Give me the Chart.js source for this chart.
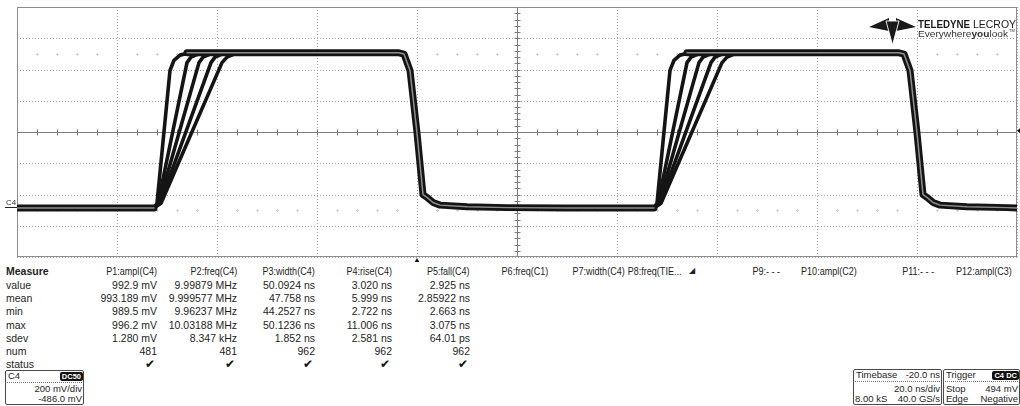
<!DOCTYPE html>
<html>
<head>
<meta charset="utf-8">
<script src="https://cdn.jsdelivr.net/npm/chart.js@4.4.1/dist/chart.umd.min.js"></script>
<style>
  body { margin:0; background:#fff; width:1020px; height:406px; overflow:hidden; position:relative;
         font-family:"Liberation Sans", Arial, sans-serif; color:#1e1e1e; }
  #pantalla { position:absolute; left:0; top:0; width:1020px; height:262px; }
  .txt { position:absolute; font-size:10.5px; line-height:12px; white-space:nowrap; }
  .der { text-align:right; }
  .enc { transform:scaleX(0.86); transform-origin:right center; }
  .caja { position:absolute; border:1px solid #4a4a4a; border-radius:2px; background:#fff; }
  .caja .txt { font-size:9.5px; line-height:10px; }
  .sep { position:absolute; left:1px; right:1px; top:11px; border-top:1px dotted #777; }
  .chapa { position:absolute; background:#111; color:#fff; font-size:7.5px; font-weight:bold;
           line-height:9px; padding:0 2px; border-radius:2px; }
</style>
</head>
<body>
<div id="pantalla"><canvas id="osciloscopio"></canvas></div>

<svg width="1020" height="60" style="position:absolute;left:0;top:0" viewBox="0 0 1020 60">
  <polygon points="869,27 889,18 889,31" fill="#1a1a1a"/>
  <polygon points="916,27 896,18 896,31" fill="#1a1a1a"/>
  <polygon points="886,21 899,21 892.5,45" fill="#1a1a1a" stroke="#fff" stroke-width="0.9"/>
  <text x="918" y="27.5" font-family="Liberation Sans, Arial" font-size="10.5" font-weight="bold"
        textLength="52" lengthAdjust="spacingAndGlyphs" fill="#1a1a1a">TELEDYNE</text>
  <text x="973" y="27.5" font-family="Liberation Sans, Arial" font-size="10.5"
        textLength="43" lengthAdjust="spacingAndGlyphs" fill="#1a1a1a">LECROY</text>
  <text x="918" y="37" font-family="Liberation Sans, Arial" font-size="9.5"
        textLength="90" lengthAdjust="spacingAndGlyphs" fill="#333">Everywhere<tspan font-weight="bold">you</tspan>look</text>
  <text x="1009" y="32" font-family="Liberation Sans, Arial" font-size="4" fill="#333">TM</text>
</svg>

<div id="medidas"></div>

<div class="caja" style="left:5px;top:370px;width:77px;height:33px">
  <div class="txt" style="left:2px;top:0px">C4</div>
  <div class="chapa" style="right:0px;top:1px">DC50</div>
  <div class="sep"></div>
  <div class="txt der" style="right:1px;top:13px">200 mV/div</div>
  <div class="txt der" style="right:1px;top:23px">-486.0 mV</div>
</div>

<div class="caja" style="left:853px;top:369px;width:87px;height:34px">
  <div class="txt" style="left:2px;top:0px">Timebase</div>
  <div class="txt der" style="right:1px;top:0px">-20.0 ns</div>
  <div class="sep"></div>
  <div class="txt der" style="right:1px;top:14px">20.0 ns/div</div>
  <div class="txt" style="left:1px;top:24px">8.00 kS</div>
  <div class="txt der" style="right:1px;top:24px">40.0 GS/s</div>
</div>

<div class="caja" style="left:943px;top:369px;width:75px;height:34px">
  <div class="txt" style="left:2px;top:0px">Trigger</div>
  <div class="chapa" style="right:13px;top:1px">C4</div>
  <div class="chapa" style="right:0px;top:1px">DC</div>
  <div class="sep"></div>
  <div class="txt" style="left:2px;top:14px">Stop</div>
  <div class="txt der" style="right:1px;top:14px">494 mV</div>
  <div class="txt" style="left:2px;top:24px">Edge</div>
  <div class="txt der" style="right:1px;top:24px">Negative</div>
</div>

<script>
/* ESCALAS: 20 ns/div, 200 mV/div, offset -486 mV */
const escalaX = [-80, -60, -40, -20, 0, 20, 40, 60, 80, 100, 120];   // ns
const escalaY = [-314, -114, 86, 286, 486, 686, 886, 1086, 1286];    // mV
const centroX = 20;
const centroY = 486;
const tiempoDisparo = 0;
const nivelDisparo = 494;

/* TRAZAS (ns, mV) */
const bajoInicio = [[-80, 0], [-52.6, 0]];

const subidas1 = [
  [[-52.0, 30], [-49.4, 880], [-48.6, 945], [-47.4, 978], [-45.4, 993]],
  [[-51.8, 30], [-46.0, 930], [-45.2, 965], [-43.8, 985], [-41.4, 993]],
  [[-51.6, 30], [-43.6, 930], [-42.8, 965], [-41.4, 985], [-39.0, 993]],
  [[-51.4, 30], [-41.2, 930], [-40.4, 965], [-39.0, 985], [-36.6, 993]],
  [[-51.2, 30], [-39.0, 930], [-38.0, 965], [-36.6, 985], [-33.8, 993]]
];

const bajada1 = [[-3.6, 993], [-2.6, 985], [-1.4, 880], [0, 480], [1.2, 85], [2.0, 68],
                 [3.2, 35], [4.6, 18], [10, 8], [18, 2], [30, 0], [47.4, 0]];

const subidas2 = [
  [[48.0, 30], [50.6, 880], [51.4, 945], [52.6, 978], [54.6, 993]],
  [[48.2, 30], [54.0, 930], [54.8, 965], [56.2, 985], [58.6, 993]],
  [[48.4, 30], [56.4, 930], [57.2, 965], [58.6, 985], [61.0, 993]],
  [[48.6, 30], [58.8, 930], [59.6, 965], [61.0, 985], [63.4, 993]],
  [[48.8, 30], [61.0, 930], [62.0, 965], [63.4, 985], [66.2, 993]]
];

const bajada2 = [[96.4, 993], [97.4, 985], [98.6, 880], [100, 480], [101.2, 85], [102.0, 68],
                 [103.2, 35], [104.6, 18], [110, 8], [118, 2], [120, 0]];

/* zona donde todas las trazas se solapan (persistencia) */
const banda = [[-80, 0], [-52.6, 0], [-50, null], [-46, 993], ...bajada1,
               [50, null], [54, 993], ...bajada2];

/* MEDIDAS */
const encabezados = ["P1:ampl(C4)", "P2:freq(C4)", "P3:width(C4)", "P4:rise(C4)", "P5:fall(C4)",
                     "P6:freq(C1)", "P7:width(C4)", "P8:freq(TIE...", "P9:- - -", "P10:ampl(C2)",
                     "P11:- - -", "P12:ampl(C3)"];
const filas = ["value", "mean", "min", "max", "sdev", "num", "status"];
const valorP = ["992.9 mV", "9.99879 MHz", "50.0924 ns", "3.020 ns", "2.925 ns"];
const mediaP = ["993.189 mV", "9.999577 MHz", "47.758 ns", "5.999 ns", "2.85922 ns"];
const minP = ["989.5 mV", "9.96237 MHz", "44.2527 ns", "2.722 ns", "2.663 ns"];
const maxP = ["996.2 mV", "10.03188 MHz", "50.1236 ns", "11.006 ns", "3.075 ns"];
const sdevP = ["1.280 mV", "8.347 kHz", "1.852 ns", "2.581 ns", "64.01 ps"];
const numP = ["481", "481", "962", "962", "962"];
const estadoP = ["\u2714", "\u2714", "\u2714", "\u2714", "\u2714"];

function aPuntos(lista) {
  return lista.map(p => ({ x: p[0], y: p[1] }));
}

/* tabla de medidas */
function cargarMedidas() {
  let base = document.querySelector('#medidas');
  const bordeCol = [157, 237, 315, 392, 470, 548, 625, 681, 780, 857, 934, 1012];
  const filaY = [271, 284.5, 298, 311, 324.5, 338, 351, 363.5];
  const columnas = [valorP, mediaP, minP, maxP, sdevP, numP, estadoP];

  let tit = document.createElement('div');
  tit.className = "txt";
  tit.style.cssText = "left:6px;top:" + (filaY[0] - 6) + "px;font-weight:bold";
  tit.textContent = "Measure";
  base.appendChild(tit);

  encabezados.forEach((enc, i) => {
    let d = document.createElement('div');
    d.className = "txt der enc";
    d.style.right = (1020 - bordeCol[i]) + "px";
    d.style.top = (filaY[0] - 6) + "px";
    d.textContent = enc;
    base.appendChild(d);
  });

  let flecha = document.createElement('div');
  flecha.className = "txt";
  flecha.style.cssText = "left:689px;top:" + (filaY[0] - 6) + "px;font-size:8px";
  flecha.textContent = "\u25E2";
  base.appendChild(flecha);

  filas.forEach((f, r) => {
    let et = document.createElement('div');
    et.className = "txt";
    et.style.cssText = "left:6px;top:" + (filaY[r + 1] - 6) + "px";
    et.textContent = f;
    base.appendChild(et);
    columnas[r].forEach((v, i) => {
      let d = document.createElement('div');
      d.className = "txt der";
      d.style.right = (1020 - bordeCol[i] + (r === 6 ? 2 : 0)) + "px";
      d.style.top = (filaY[r + 1] - 6) + "px";
      if (r === 6) { d.style.fontSize = "12px"; d.style.color = "#111"; }
      d.textContent = v;
      base.appendChild(d);
    });
  });
}
cargarMedidas();

/* rejilla del osciloscopio */
const rejilla = {
  id: 'rejilla',
  beforeDatasetsDraw(chart) {
    const { ctx, chartArea: a, scales: { x, y } } = chart;
    ctx.save();
    ctx.lineWidth = 1;

    ctx.strokeStyle = '#a0a0a0';
    ctx.setLineDash([1, 2]);
    escalaX.forEach(v => {
      if (v === centroX) return;
      const px = Math.round(x.getPixelForValue(v)) + 0.5;
      ctx.beginPath(); ctx.moveTo(px, a.top); ctx.lineTo(px, a.bottom); ctx.stroke();
    });
    escalaY.forEach(v => {
      if (v === centroY) return;
      const py = Math.round(y.getPixelForValue(v)) + 0.5;
      ctx.beginPath(); ctx.moveTo(a.left, py); ctx.lineTo(a.right, py); ctx.stroke();
    });
    ctx.setLineDash([]);

    // ejes centrales con subdivisiones
    ctx.strokeStyle = '#7c7c7c';
    const cx = Math.round(x.getPixelForValue(centroX)) + 0.5;
    const cy = Math.round(y.getPixelForValue(centroY)) + 0.5;
    ctx.beginPath(); ctx.moveTo(cx, a.top); ctx.lineTo(cx, a.bottom); ctx.stroke();
    ctx.beginPath(); ctx.moveTo(a.left, cy); ctx.lineTo(a.right, cy); ctx.stroke();
    const subX = (escalaX[1] - escalaX[0]) / 5;
    const subY = (escalaY[1] - escalaY[0]) / 5;
    for (let t = escalaX[0] + subX; t < escalaX[escalaX.length - 1]; t += subX) {
      const px = Math.round(x.getPixelForValue(t)) + 0.5;
      ctx.beginPath(); ctx.moveTo(px, cy - 3); ctx.lineTo(px, cy + 3); ctx.stroke();
    }
    for (let v = escalaY[0] + subY; v < escalaY[escalaY.length - 1]; v += subY) {
      const py = Math.round(y.getPixelForValue(v)) + 0.5;
      ctx.beginPath(); ctx.moveTo(cx - 3, py); ctx.lineTo(cx + 3, py); ctx.stroke();
    }

    // marcas tenues a +/- 2.5 div
    ctx.strokeStyle = '#d2d2d2';
    [centroY + 2.5 * 200, centroY - 2.5 * 200].forEach(v => {
      const py = Math.round(y.getPixelForValue(v)) + 0.5;
      for (let t = escalaX[0] + subX; t < escalaX[escalaX.length - 1]; t += subX) {
        const fr = ((t - escalaX[0]) / 20) % 1;
        if (fr < 0.01 || fr > 0.99) continue;
        const px = Math.round(x.getPixelForValue(t)) + 0.5;
        ctx.beginPath();
        ctx.moveTo(px - 1.5, py); ctx.lineTo(px + 1.5, py);
        ctx.moveTo(px, py - 1.5); ctx.lineTo(px, py + 1.5);
        ctx.stroke();
      }
    });

    ctx.strokeStyle = '#8c8c8c';
    ctx.strokeRect(a.left + 0.5, a.top + 0.5, a.width - 1, a.height - 1);
    ctx.restore();
  },
  afterDraw(chart) {
    const { ctx, chartArea: a, scales: { x, y } } = chart;
    ctx.save();
    ctx.fillStyle = '#111';
    // disparo en tiempo
    const tx = x.getPixelForValue(tiempoDisparo);
    ctx.beginPath(); ctx.moveTo(tx, a.bottom + 1); ctx.lineTo(tx - 3.5, a.bottom + 7); ctx.lineTo(tx + 3.5, a.bottom + 7);
    ctx.closePath(); ctx.fill();
    // nivel de disparo
    const ty = y.getPixelForValue(nivelDisparo);
    ctx.beginPath(); ctx.moveTo(a.right, ty); ctx.lineTo(a.right + 3, ty - 2.5); ctx.lineTo(a.right + 3, ty + 2.5);
    ctx.closePath(); ctx.fill();
    // marca de tierra C4
    const gy = Math.round(y.getPixelForValue(0)) - 0.5;
    ctx.strokeStyle = '#222';
    ctx.lineWidth = 1;
    ctx.beginPath(); ctx.moveTo(5, gy); ctx.lineTo(a.left, gy); ctx.stroke();
    ctx.font = '8px "Liberation Sans", Arial';
    ctx.fillStyle = '#333';
    ctx.fillText('C4', 6, gy - 3);
    ctx.restore();
  }
};

const trazas = subidas1.map((s, i) => aPuntos([...bajoInicio, ...s, ...bajada1, ...subidas2[i], ...bajada2]));

const datasets = [
  { data: aPuntos(banda), borderColor: '#8e8e8e', borderWidth: 1.5, order: 0 },
  { data: aPuntos(banda), borderColor: '#141414', borderWidth: 7, order: 1 }
];
trazas.forEach(t => datasets.push({ data: t, borderColor: '#141414', borderWidth: 3.6, order: 2 }));

new Chart(document.getElementById('osciloscopio'), {
  type: 'line',
  data: { datasets: datasets },
  options: {
    responsive: true,
    maintainAspectRatio: false,
    animation: false,
    spanGaps: false,
    layout: { padding: { left: 17, top: 7, right: 3, bottom: 5 } },
    elements: { point: { radius: 0 }, line: { tension: 0, borderJoinStyle: 'round', borderCapStyle: 'round' } },
    plugins: { legend: { display: false }, tooltip: { enabled: false } },
    scales: {
      x: { type: 'linear', min: escalaX[0], max: escalaX[escalaX.length - 1], display: false },
      y: { type: 'linear', min: escalaY[0], max: escalaY[escalaY.length - 1], display: false }
    }
  },
  plugins: [rejilla]
});
</script>
</body>
</html>
